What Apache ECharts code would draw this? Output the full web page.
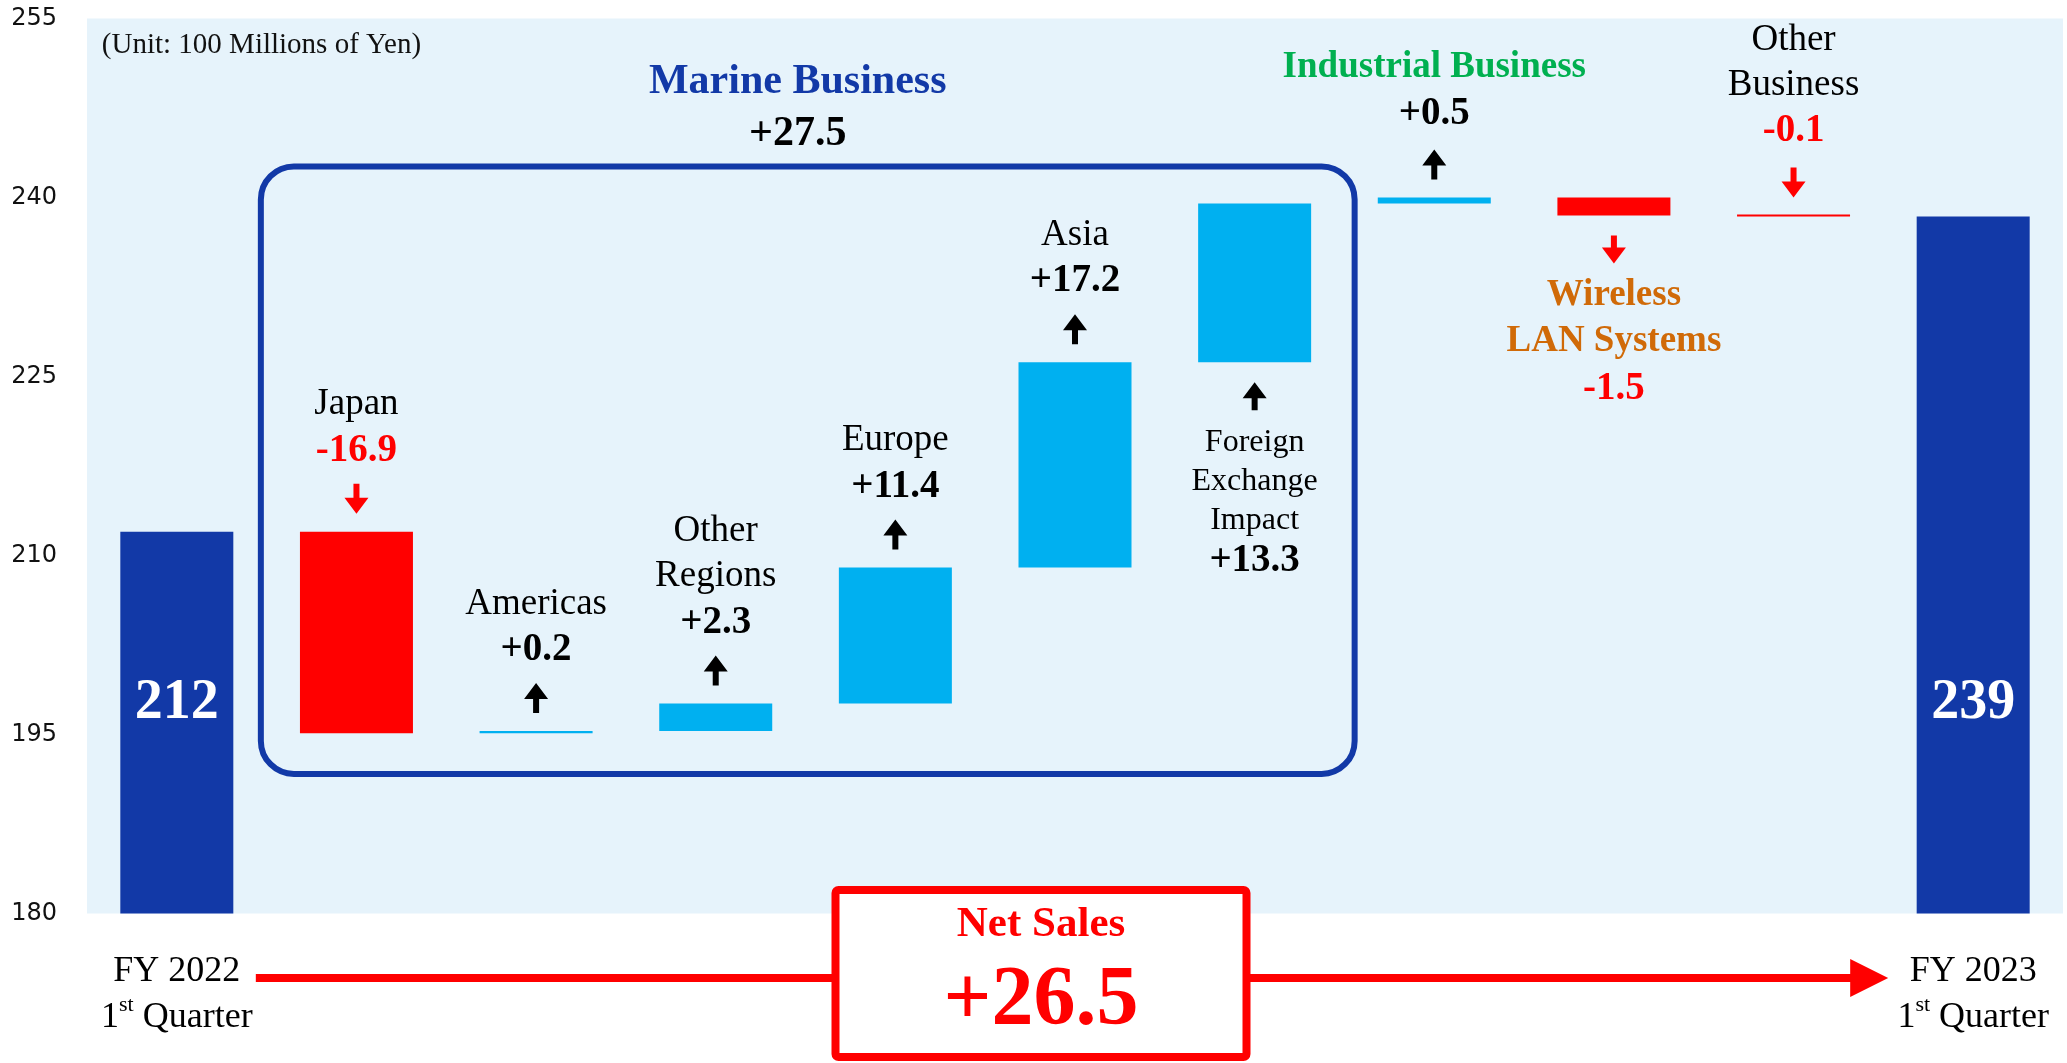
<!DOCTYPE html>
<html>
<head>
<meta charset="utf-8">
<script src="https://cdn.jsdelivr.net/npm/echarts/dist/echarts.min.js"></script>
<style>html,body{margin:0;padding:0;background:#fff}#c{width:2067px;height:1063px}</style>
</head>
<body>
<div id="c"></div>
<script>
// ---------------- data ----------------
const categories = ['FY 2022\n1st Quarter', 'Japan', 'Americas', 'Other\nRegions', 'Europe', 'Asia',
  'Foreign\nExchange\nImpact', 'Industrial Business', 'Wireless\nLAN Systems', 'Other\nBusiness', 'FY 2023\n1st Quarter'];
const startTotal = 212.0;
const changes = [-16.9, 0.2, 2.3, 11.4, 17.2, 13.3, 0.5, -1.5, -0.1];
const totalLabels = ['212', '239'];
const yTicks = [180, 195, 210, 225, 240, 255];
const marineCount = 6;               // first six changes belong to Marine Business
const marineTitle = 'Marine Business';
const netSalesTitle = 'Net Sales';
const netSalesText = '+26.5';
const unitText = '(Unit: 100 Millions of Yen)';

// ---------------- styles ----------------
const SERIF = '"Liberation Serif", "Times New Roman", serif';
const C_NAVY = '#1239A7', C_CYAN = '#00B0F0', C_RED = '#FF0000', C_GREEN = '#00B050', C_ORANGE = '#D06A08';

// ---------------- waterfall build ----------------
const baseData = [0];
const barData = [{ value: startTotal, itemStyle: { color: C_NAVY } }];
const spans = [];
let cum = startTotal;
changes.forEach(d => {
  const lo = Math.min(cum, cum + d), hi = Math.max(cum, cum + d);
  spans.push({ lo, hi, d });
  baseData.push(lo);
  barData.push({ value: Math.abs(d), itemStyle: { color: d < 0 ? C_RED : C_CYAN } });
  cum += d;
});
baseData.push(0);
barData.push({ value: cum, itemStyle: { color: C_NAVY } });
const lastIdx = categories.length - 1;

function fmtX(v, i) {
  if (i !== 0 && i !== lastIdx) return '';
  const lines = v.split('\n');
  const m = lines[1].match(/^(\d+)(st|nd|rd|th)(.*)$/);
  const second = m ? '{a|' + m[1] + '}{s|' + m[2] + '}{a|' + m[3] + '}' : '{a|' + lines[1] + '}';
  return '{a|' + lines[0] + '}\n' + second;
}

const chart = echarts.init(document.getElementById('c'), null, { renderer: 'canvas' });
const option = {
  animation: false,
  backgroundColor: '#ffffff',
  grid: { left: 87, right: 4, top: 18.5, bottom: 149.5, show: true, backgroundColor: '#E6F3FB',
          borderWidth: 0, containLabel: false, outerBoundsMode: 'none' },
  xAxis: {
    type: 'category', data: categories,
    axisLine: { show: false }, axisTick: { show: false }, splitLine: { show: false },
    axisLabel: {
      interval: 0, margin: 35, formatter: fmtX,
      rich: {
        a: { fontFamily: SERIF, fontSize: 36, lineHeight: 46, color: '#000' },
        s: { fontFamily: SERIF, fontSize: 22, lineHeight: 36, verticalAlign: 'top', color: '#000' }
      }
    }
  },
  yAxis: {
    type: 'value', min: 180, max: 255, interval: 15,
    axisLine: { show: false }, axisTick: { show: false }, splitLine: { show: false },
    axisLabel: { fontFamily: '"DejaVu Sans", Verdana, sans-serif', fontSize: 24, color: '#111', margin: 30,
      formatter: v => yTicks.includes(v) ? String(v) : '' }
  },
  series: [
    { type: 'bar', stack: 'w', data: baseData, barWidth: 113, silent: true,
      itemStyle: { color: 'rgba(0,0,0,0)' } },
    { type: 'bar', stack: 'w', data: barData, barWidth: 113, barMinHeight: 2,
      label: {
        show: true, position: 'insideBottom', distance: 182,
        formatter: p => p.dataIndex === 0 ? totalLabels[0] : (p.dataIndex === lastIdx ? totalLabels[1] : ''),
        color: '#fff', fontFamily: SERIF, fontWeight: 'bold', fontSize: 56, lineHeight: 56
      } }
  ]
};
chart.setOption(option);

// ---------------- annotations ----------------
const P = (i, v) => chart.convertToPixel({ xAxisIndex: 0, yAxisIndex: 0 }, [i, v]);
const g = [];
function txt(x, y, text, font, fill, align) {
  g.push({ type: 'text', x, y, z: 20,
    style: { text, font, fill, align: align || 'center', verticalAlign: 'middle',
             textAlign: align || 'center', textVerticalAlign: 'middle' } });
}
function arrow(x, yTop, yBot, up, color) {
  const hh = 16, hw = 12, sw = 3;
  const pts = up
    ? [[x, yTop], [x + hw, yTop + hh], [x + sw, yTop + hh], [x + sw, yBot], [x - sw, yBot], [x - sw, yTop + hh], [x - hw, yTop + hh]]
    : [[x, yBot], [x + hw, yBot - hh], [x + sw, yBot - hh], [x + sw, yTop], [x - sw, yTop], [x - sw, yBot - hh], [x - hw, yBot - hh]];
  g.push({ type: 'polygon', z: 20, shape: { points: pts }, style: { fill: color } });
}
const belowIdx = [6, 8];
function nameStyle(i) {
  if (i === 7) return { font: 'bold 37px ' + SERIF, fill: C_GREEN, gap: 46 };
  if (i === 8) return { font: 'bold 37px ' + SERIF, fill: C_ORANGE, gap: 46 };
  if (i === 6) return { font: '32px ' + SERIF, fill: '#000', gap: 39 };
  return { font: '37px ' + SERIF, fill: '#000', gap: 45 };
}
const valFont = 'bold 39px ' + SERIF;

spans.forEach((s, k) => {
  const i = k + 1;
  const x = P(i, s.hi)[0];
  const up = s.d > 0;
  const col = up ? '#000' : C_RED;
  const valText = (up ? '+' : '') + s.d.toFixed(1);
  const names = categories[i].split('\n');
  const ns = nameStyle(i);
  if (belowIdx.includes(i)) {
    const yb = P(i, s.lo)[1];
    arrow(x, yb + 20, yb + 48, up, col);
    let y = yb + 80;
    names.forEach((n, j) => { txt(x, y, n, ns.font, ns.fill); if (j < names.length - 1) y += ns.gap; });
    txt(x, y + ns.gap + 2, valText, valFont, col);
  } else {
    const yt = P(i, s.hi)[1];
    const extra = i >= 7 ? 3 : 0;   // right-hand group sits slightly higher
    arrow(x, yt - 48, yt - 18, up, col);
    txt(x, yt - 81 - extra, valText, valFont, col);
    let y = yt - 127 - extra;
    for (let j = names.length - 1; j >= 0; j--) { txt(x, y, names[j], ns.font, ns.fill); y -= ns.gap; }
  }
});

// Marine Business box
const bl = P(1, 0)[0] - 95.6, br = P(marineCount, 0)[0] + 100;
const bt = P(0, 242.6)[1], bb = P(0, 191.7)[1];
g.push({ type: 'rect', z: 15, shape: { x: bl, y: bt, width: br - bl, height: bb - bt, r: 33 },
  style: { fill: 'none', stroke: C_NAVY, lineWidth: 6 } });
const marineSum = changes.slice(0, marineCount).reduce((a, b) => a + b, 0);
const mx = (bl + br) / 2 - 10;
txt(mx, bt - 84, marineTitle, 'bold 42px ' + SERIF, C_NAVY);
txt(mx, bt - 32, (marineSum >= 0 ? '+' : '') + marineSum.toFixed(1), 'bold 42px ' + SERIF, '#000');

// unit note
txt(P(0, 0)[0] - 75, 45, unitText, '29px ' + SERIF, '#111', 'left');

// bottom arrow line
const gridBottom = P(0, 180)[1];
const ly = gridBottom + 64.5;
const lx0 = P(0, 0)[0] + 79, tip = P(lastIdx, 0)[0] - 85;
g.push({ type: 'line', z: 12, shape: { x1: lx0, y1: ly, x2: tip - 30, y2: ly }, style: { stroke: C_RED, lineWidth: 8 } });
g.push({ type: 'polygon', z: 12, shape: { points: [[tip, ly], [tip - 38, ly - 19], [tip - 38, ly + 19]] }, style: { fill: C_RED } });

// Net Sales box
const ncx = 1041;
g.push({ type: 'rect', z: 14, shape: { x: ncx - 205.5, y: 890, width: 411, height: 167, r: 3 },
  style: { fill: '#fff', stroke: C_RED, lineWidth: 8 } });
txt(ncx, 925, netSalesTitle, 'bold 43px ' + SERIF, C_RED);
txt(ncx, 1002, netSalesText, 'bold 84px ' + SERIF, C_RED);

chart.setOption({ graphic: { elements: g } });
</script>
</body>
</html>
